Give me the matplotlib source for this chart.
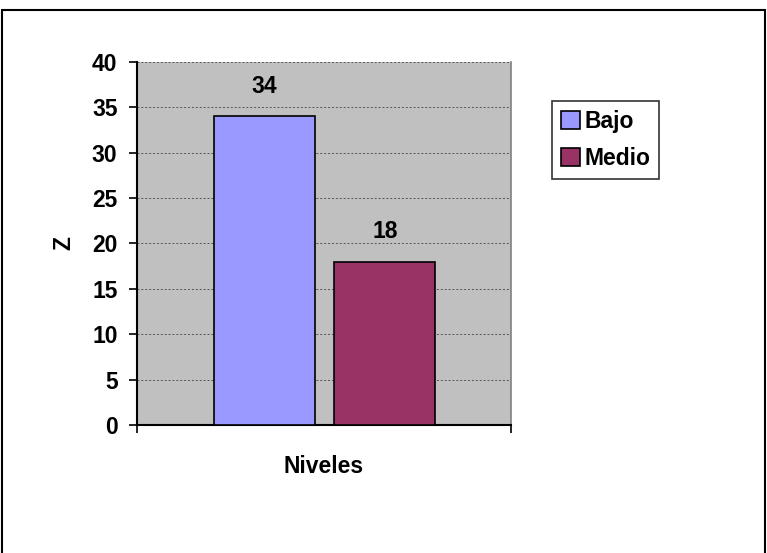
import numpy as np
import matplotlib.pyplot as plt
from matplotlib.patches import Rectangle

categories = ['Bajo', 'Medio']
values = [34, 18]
colors = ['#9999FF', '#993366']
yticks = [0, 5, 10, 15, 20, 25, 30, 35, 40]

plt.rcParams['font.family'] = ['Liberation Sans', 'DejaVu Sans']
plt.rcParams['font.weight'] = 'bold'
fs = 16.5

fig = plt.figure(figsize=(7.67, 5.53), dpi=100)
ax = fig.add_axes([0.1786, 0.2315, 0.4876, 0.6564])
ax.set_facecolor('#C0C0C0')

width = 0.27
offsets = np.array([-0.159, 0.163])
pos = 0.5 + offsets
bars = ax.bar(pos, values, width=width, color=colors, edgecolor='black',
              linewidth=1.2, label=categories, zorder=3)
for b, v in zip(bars, values):
    ax.text(b.get_x() + b.get_width() / 2, v + 2.0, str(v), ha='center',
            va='bottom', fontsize=fs, fontweight='bold')

ax.set_xlim(0, 1)
ax.set_ylim(0, 40)
ax.set_yticks(yticks)
ax.tick_params(axis='y', labelsize=fs, length=6, width=1.2, direction='out', pad=8)
ax.set_xticks([0, 1])
ax.set_xticklabels(['', ''])
ax.tick_params(axis='x', length=6, width=1.2, direction='out')
ax.grid(axis='y', color='#555555', linestyle=(0, (2, 2)), linewidth=0.7, zorder=0)

for s in ['left', 'bottom']:
    ax.spines[s].set_linewidth(1.5)
    ax.spines[s].set_color('black')
ax.spines['top'].set_visible(False)
ax.spines['right'].set_color('#808080')
ax.spines['right'].set_linewidth(1.2)

ax.set_xlabel('Niveles', fontsize=fs, fontweight='bold', labelpad=12)
ax.set_ylabel('Z', fontsize=fs, fontweight='bold', labelpad=12)

leg = fig.legend(handles=bars, labels=categories, loc='upper left',
                 bbox_to_anchor=(552 / 767, 1 - 101 / 553), fontsize=fs,
                 frameon=True, fancybox=False, edgecolor='black',
                 handlelength=0.8, handleheight=0.8, handletextpad=0.2,
                 borderpad=0.4, labelspacing=0.6, borderaxespad=0)
leg.get_frame().set_linewidth(1.2)

fig.patches.append(Rectangle((0.002, -0.01), 0.995, 0.992, transform=fig.transFigure,
                             fill=False, edgecolor='black', linewidth=1.5))

fig.savefig('out.png', dpi=100, facecolor='white')
